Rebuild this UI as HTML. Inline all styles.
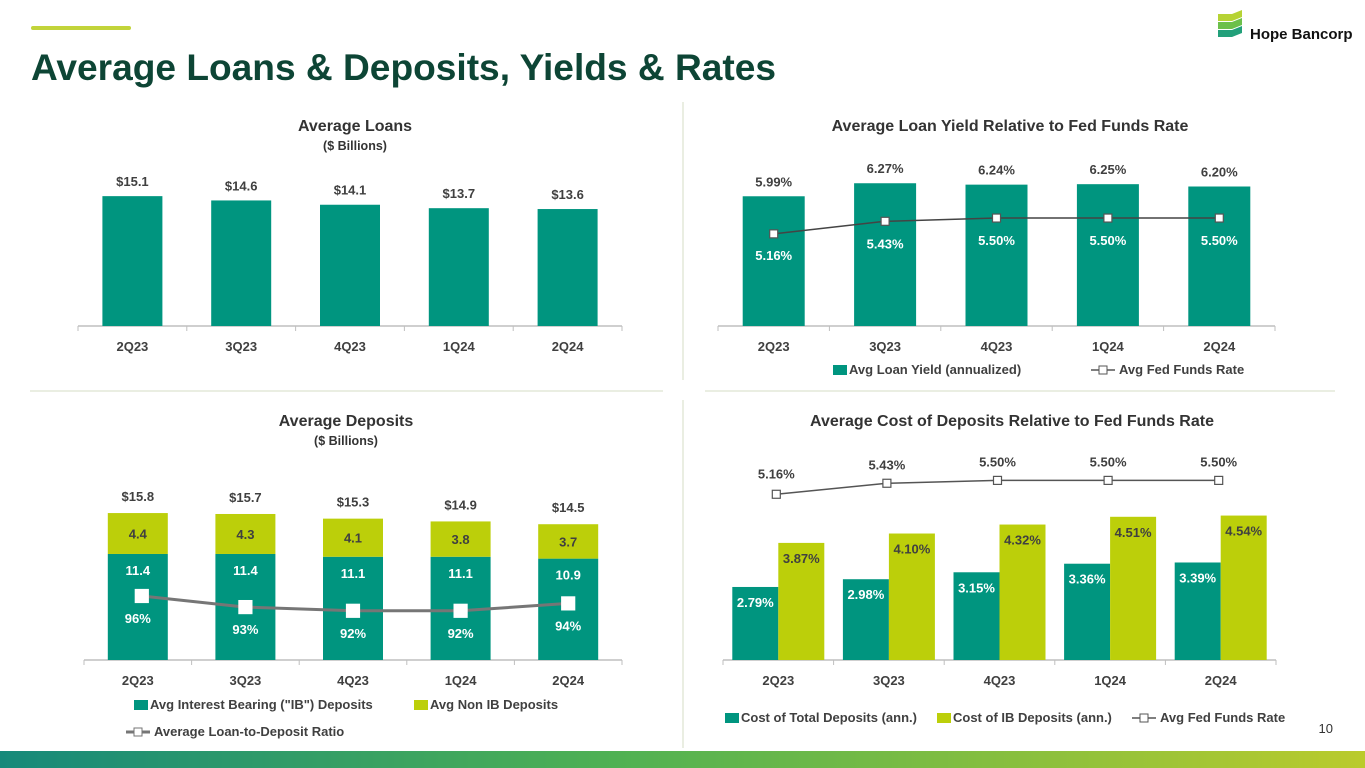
<!DOCTYPE html>
<html><head><meta charset="utf-8"><style>
html,body{margin:0;padding:0;background:#fff;width:1365px;height:768px;overflow:hidden}
svg{display:block;font-family:"Liberation Sans",sans-serif}
</style></head><body>
<svg id="s" width="1365" height="768" viewBox="0 0 1365 768">
<defs><linearGradient id="g" x1="0" x2="1" y1="0" y2="0"><stop offset="0" stop-color="#16897a"/><stop offset="0.45" stop-color="#4fb153"/><stop offset="1" stop-color="#bacb2c"/></linearGradient></defs>
<rect x="31" y="26" width="100" height="4" rx="2" fill="#c2d43a"/>
<text x="31" y="80" font-size="37" font-weight="bold" fill="#0d4535" textLength="745" lengthAdjust="spacingAndGlyphs">Average Loans &amp; Deposits, Yields &amp; Rates</text>
<g>
<path d="M1218 14 h14 l10 -4 v7 l-10 4 h-14z" fill="#b6d334"/>
<path d="M1218 22 h14 l10 -4 v7 l-10 4 h-14z" fill="#6cc04a"/>
<path d="M1218 30 h14 l10 -4 v7 l-10 4 h-14z" fill="#22a07a"/>
<text x="1250" y="39" font-size="15" font-weight="bold" fill="#111">Hope Bancorp</text>
</g>
<line x1="683" y1="102" x2="683" y2="380" stroke="#d4dcc4"/>
<line x1="683" y1="400" x2="683" y2="748" stroke="#d4dcc4"/>
<line x1="30" y1="391" x2="663" y2="391" stroke="#d4dcc4"/>
<line x1="705" y1="391" x2="1335" y2="391" stroke="#d4dcc4"/>
<text x="1333" y="733" font-size="13" fill="#333" text-anchor="end">10</text>
<rect x="0" y="751" width="1365" height="17" fill="url(#g)"/>
</svg>
<script>
const cats = ['2Q23','3Q23','4Q23','1Q24','2Q24'];
const loans = [15.1,14.6,14.1,13.7,13.6];
const loanYield = [5.99,6.27,6.24,6.25,6.20];
const fedFunds = [5.16,5.43,5.50,5.50,5.50];
const ibDeposits = [11.4,11.4,11.1,11.1,10.9];
const nonIbDeposits = [4.4,4.3,4.1,3.8,3.7];
const totalDeposits = [15.8,15.7,15.3,14.9,14.5];
const ltdRatio = [96,93,92,92,94];
const costTotal = [2.79,2.98,3.15,3.36,3.39];
const costIb = [3.87,4.10,4.32,4.51,4.54];

const TEAL='#00957f', LIME='#bccf0a', NS='http://www.w3.org/2000/svg';
const S=document.getElementById('s');
function el(t,a,p){const e=document.createElementNS(NS,t);for(const k in a)e.setAttribute(k,a[k]);(p||S).appendChild(e);return e;}
function txt(x,y,s,o,p){const e=el('text',Object.assign({x:x,y:y,'font-size':13,'font-weight':'bold','text-anchor':'middle',fill:'#404040'},o||{}),p);e.textContent=s;return e;}
function axis(g,x0,x1,y,n){
  el('line',{x1:x0,x2:x1,y1:y,y2:y,stroke:'#bfbfbf','stroke-width':1.5},g);
  const w=(x1-x0)/n;
  for(let i=0;i<=n;i++)el('line',{x1:x0+i*w,x2:x0+i*w,y1:y,y2:y+5,stroke:'#bfbfbf'},g);
  for(let i=0;i<n;i++){const t=txt(x0+(i+.5)*w,y+25,cats[i],{},g);
    
    }
  return i=>x0+(i+.5)*w;
}
function grp(name){const g=el('g',{});return g;}
function rect(g,x,y,w,h,f,name){const r=el('rect',{x:x,y:y,width:w,height:h,fill:f},g);
  
  return r;}
function line(g,pts,sw,col,ms,mstroke){
  el('polyline',{points:pts.map(p=>p.join(',')).join(' '),fill:'none',stroke:col,'stroke-width':sw},g);
  pts.forEach(p=>{const m=el('rect',{x:p[0]-ms/2,y:p[1]-ms/2,width:ms,height:ms,fill:'#fff',stroke:mstroke,'stroke-width':1.2},g);
    
    });
}
function legendBox(g,x,y,c,label){rect(g,x,y-5,14,10,c,'legend-swatch');txt(x+16,y+4,label,{'text-anchor':'start','font-weight':'bold',fill:'#404040'},g);}
function legendLine(g,x,y,label,sw,col){el('line',{x1:x,x2:x+24,y1:y,y2:y,stroke:col,'stroke-width':sw},g);el('rect',{x:x+8,y:y-4,width:8,height:8,fill:'#fff',stroke:col},g);txt(x+28,y+4,label,{'text-anchor':'start'},g);}

// Chart 1
(function(){
  const g=grp('average-loans-chart');
  txt(355,131,'Average Loans',{'font-size':16,fill:'#333'},g);
  txt(355,150,'($ Billions)',{'font-size':12.5,fill:'#333'},g);
  const base=326, k=8.6;
  const X=axis(g,78,622,base,5);
  loans.forEach((v,i)=>{const h=v*k;rect(g,X(i)-30,base-h,60,h,TEAL,'loan-bar-'+cats[i]);
    txt(X(i),base-h-10,'$'+v.toFixed(1),{},g);});
})();
// Chart 2
(function(){
  const g=grp('loan-yield-chart');
  txt(1010,131,'Average Loan Yield Relative to Fed Funds Rate',{'font-size':16,fill:'#333'},g);
  const base=326, v0=3.2, k=46.5, Y=v=>base-(v-v0)*k;
  const X=axis(g,718,1275,base,5);
  loanYield.forEach((v,i)=>{rect(g,X(i)-31,Y(v),62,base-Y(v),TEAL,'yield-bar-'+cats[i]);
    txt(X(i),Y(v)-10,v.toFixed(2)+'%',{},g);});
  line(g,fedFunds.map((v,i)=>[X(i),Y(v)-1]),1.5,'#444',8,'#555');
  fedFunds.forEach((v,i)=>txt(X(i),Y(v)+(i==0?25:26),v.toFixed(2)+'%',{fill:'#fff'},g));
  legendBox(g,833,370,TEAL,'Avg Loan Yield (annualized)');
  legendLine(g,1091,370,'Avg Fed Funds Rate',1.5,'#555');
})();
// Chart 3
(function(){
  const g=grp('average-deposits-chart');
  txt(346,426,'Average Deposits',{'font-size':16,fill:'#333'},g);
  txt(346,445,'($ Billions)',{'font-size':12.5,fill:'#333'},g);
  const base=660, k=9.3, rv0=78.7, rk=3.7, RY=v=>base-(v-rv0)*rk;
  const X=axis(g,84,622,base,5);
  cats.forEach((c,i)=>{const h1=ibDeposits[i]*k,h2=nonIbDeposits[i]*k;
    rect(g,X(i)-30,base-h1,60,h1,TEAL,'ib-deposit-bar-'+c);
    rect(g,X(i)-30,base-h1-h2,60,h2,LIME,'non-ib-deposit-bar-'+c);
    txt(X(i),base-h1+21,ibDeposits[i].toFixed(1),{fill:'#fff'},g);
    txt(X(i),base-h1-h2/2+5,nonIbDeposits[i].toFixed(1),{},g);
    txt(X(i),base-h1-h2-12,'$'+totalDeposits[i].toFixed(1),{},g);});
  line(g,ltdRatio.map((v,i)=>[X(i)-(i==0?-4:0),RY(v)]),3,'#767676',13,'#fff');
  ltdRatio.forEach((v,i)=>txt(X(i),RY(v)+27,v+'%',{fill:'#fff'},g));
  legendBox(g,134,705,TEAL,'Avg Interest Bearing ("IB") Deposits');
  legendBox(g,414,705,LIME,'Avg Non IB Deposits');
  legendLine(g,126,732,'Average Loan-to-Deposit Ratio',3,'#767676');
})();
// Chart 4
(function(){
  const g=grp('cost-of-deposits-chart');
  txt(1012,426,'Average Cost of Deposits Relative to Fed Funds Rate',{'font-size':16,fill:'#333'},g);
  const base=660, v0=1.0, k=40.8, Y=v=>base-(v-v0)*k;
  const X=axis(g,723,1276,base,5);
  cats.forEach((c,i)=>{
    rect(g,X(i)-46,Y(costTotal[i]),46,base-Y(costTotal[i]),TEAL,'cost-total-bar-'+c);
    rect(g,X(i),Y(costIb[i]),46,base-Y(costIb[i]),LIME,'cost-ib-bar-'+c);
    txt(X(i)-23,Y(costTotal[i])+20,costTotal[i].toFixed(2)+'%',{fill:'#fff'},g);
    txt(X(i)+23,Y(costIb[i])+20,costIb[i].toFixed(2)+'%',{},g);});
  line(g,fedFunds.map((v,i)=>[X(i)-2,Y(v)+4]),1.5,'#555',8,'#555');
  fedFunds.forEach((v,i)=>txt(X(i)-2,Y(v)-(i==0?12:10),v.toFixed(2)+'%',{},g));
  legendBox(g,725,718,TEAL,'Cost of Total Deposits (ann.)');
  legendBox(g,937,718,LIME,'Cost of IB Deposits (ann.)');
  legendLine(g,1132,718,'Avg Fed Funds Rate',1.5,'#555');
})();
</script>
</body></html>
